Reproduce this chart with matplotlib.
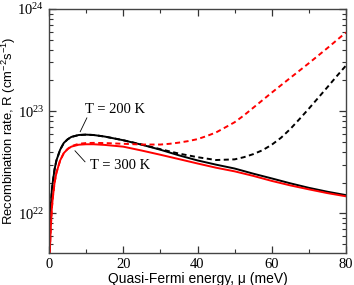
import matplotlib
matplotlib.use("Agg")
import matplotlib.pyplot as plt
from matplotlib.ticker import FixedLocator, LogLocator, NullFormatter

mu_b = [0, 0.25, 0.5, 0.75, 1, 1.5, 2, 3, 4, 5, 6, 8, 10, 12, 15, 20, 25, 30, 35, 40, 45, 50, 55, 60, 65, 70, 75, 80]
r_200_solid = [3e21, 7e21, 1.2e22, 1.65e22, 2.0e22, 2.7e22, 3.3e22, 4.2e22, 4.9e22, 5.3e22, 5.6e22, 5.85e22,
               5.9e22, 5.85e22, 5.65e22, 5.2e22, 4.7e22, 4.2e22, 3.7e22, 3.3e22, 3.0e22, 2.75e22, 2.45e22,
               2.2e22, 1.97e22, 1.78e22, 1.63e22, 1.51e22]
r_300_solid = [2e21, 4.5e21, 7.5e21, 1.1e22, 1.4e22, 2.0e22, 2.5e22, 3.3e22, 3.9e22, 4.25e22, 4.5e22, 4.7e22,
               4.75e22, 4.75e22, 4.68e22, 4.5e22, 4.12e22, 3.75e22, 3.4e22, 3.08e22, 2.8e22, 2.58e22, 2.33e22,
               2.08e22, 1.88e22, 1.72e22, 1.58e22, 1.47e22]

mu_d200 = [0, 0.25, 0.5, 0.75, 1, 1.5, 2, 3, 4, 5, 6, 8, 10, 12, 15, 20, 25, 30, 35, 40, 45, 50, 52.5, 55,
           57.5, 60, 62.5, 65, 67.5, 70, 72.5, 75, 77.5, 80]
r_200_dash = [3e21, 7e21, 1.2e22, 1.65e22, 2.0e22, 2.7e22, 3.3e22, 4.2e22, 4.9e22, 5.3e22, 5.6e22, 5.85e22,
              5.9e22, 5.85e22, 5.65e22, 5.2e22, 4.72e22, 4.25e22, 3.85e22, 3.55e22, 3.33e22, 3.38e22, 3.55e22,
              3.8e22, 4.15e22, 4.7e22, 5.5e22, 6.7e22, 8.4e22, 1.06e23, 1.35e23, 1.72e23, 2.2e23, 2.8e23]

mu_d300 = [0, 0.25, 0.5, 0.75, 1, 1.5, 2, 3, 4, 5, 6, 8, 10, 12, 15, 20, 25, 30, 32.5, 35, 37.5, 40, 42.5, 45,
           47.5, 50, 52.5, 55, 60, 65, 70, 75, 80]
r_300_dash = [2e21, 4.5e21, 7.5e21, 1.1e22, 1.4e22, 2.0e22, 2.5e22, 3.3e22, 3.9e22, 4.27e22, 4.55e22, 4.8e22,
              4.88e22, 4.9e22, 4.88e22, 4.8e22, 4.72e22, 4.72e22, 4.8e22, 4.93e22, 5.1e22, 5.33e22, 5.72e22,
              6.2e22, 6.95e22, 7.8e22, 9.1e22, 1.08e23, 1.52e23, 2.12e23, 2.95e23, 4.15e23, 5.9e23]

x_ticks = [0, 20, 40, 60, 80]

fig = plt.figure(figsize=(3.54, 2.85), dpi=100)
ax = fig.add_axes([49/354, 1-253/285, (346-49)/354, (253-9)/285])

lw = 1.4
ax.plot(mu_b, r_200_solid, color="black", lw=lw)
ax.plot(mu_d200, r_200_dash, color="black", lw=lw, ls=(0, (2.6, 1.8)))
ax.plot(mu_b, r_300_solid, color="#ff0000", lw=lw)
ax.plot(mu_d300, r_300_dash, color="#ff0000", lw=lw, ls=(0, (2.6, 1.8)))

ax.set_yscale("log")
ax.set_xlim(0, 80)
ax.set_ylim(4.1e21, 1e24)
ax.xaxis.set_major_locator(FixedLocator(x_ticks))
ax.xaxis.set_minor_locator(FixedLocator([10, 30, 50, 70]))
ax.yaxis.set_major_locator(LogLocator(base=10, numticks=10))
ax.yaxis.set_minor_locator(LogLocator(base=10, subs=range(2, 10), numticks=10))
ax.yaxis.set_minor_formatter(NullFormatter())

ax.tick_params(which="both", direction="in", top=True, right=True, colors="#333333",
               labelcolor="black")
ax.tick_params(which="major", length=5, width=0.9)
ax.tick_params(which="minor", length=3, width=0.8)
for s in ax.spines.values():
    s.set_color("#444444")
    s.set_linewidth(1.0)

serif = "Liberation Serif"
for lab in ax.get_xticklabels() + ax.get_yticklabels():
    lab.set_fontfamily(serif)
    lab.set_fontsize(10.5)

ax.set_xlabel("Quasi-Fermi energy, \u03bc (meV)", fontsize=10, family="Liberation Sans", labelpad=1)
ax.set_ylabel(r"Recombination rate, R (cm$^{\mathregular{-2}}$s$^{\mathregular{-1}}$)", fontsize=9.4,
              family="Liberation Sans")
ax.yaxis.set_label_coords(-0.104, 0.5)

ax.text(9.7, 1.03e23, "T = 200 K", family=serif, fontsize=10.5, va="center", ha="left")
ax.plot([10.2, 8.4], [8.6e22, 6.3e22], color="black", lw=0.6)
ax.text(11.0, 2.93e22, "T = 300 K", family=serif, fontsize=10.5, va="center", ha="left")
ax.plot([7.0, 9.7], [4.1e22, 3.2e22], color="black", lw=0.6)

fig.savefig("out.png", dpi=100)
